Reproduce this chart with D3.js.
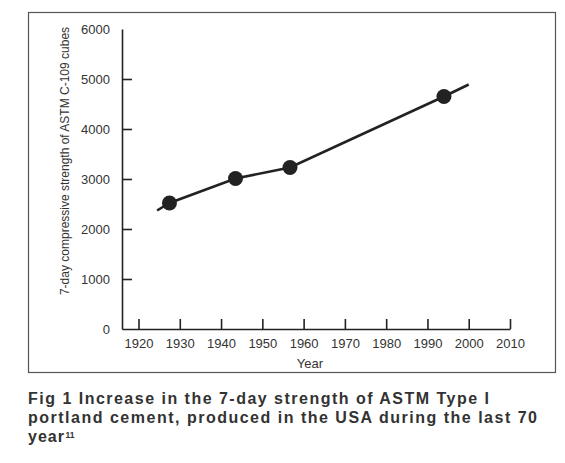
<!DOCTYPE html>
<html lang="en">
<head>
    <meta charset="UTF-8">
    <title>7-day strength of ASTM Type I cement</title>
    <script src="https://d3js.org/d3.v7.min.js"></script>
    <style>
        body {
            margin: 0;
            background: #fff;
            font-family: Arial, "Liberation Sans", sans-serif;
        }
    </style>
</head>
<body>
    <div class="chart"></div>

    <script>
        // measured points (year, 7-day strength)
        const years = [1927.5, 1943.5, 1956.7, 1994];
        const strength = [2520, 3010, 3230, 4650];

        // the drawn line runs a bit past the first and last points
        const lineYears = [1924.5, 1927.5, 1943.5, 1956.7, 1994, 2000];
        const lineStrength = [2370, 2520, 3010, 3230, 4650, 4890];

        const xTicks = [1920, 1930, 1940, 1950, 1960, 1970, 1980, 1990, 2000, 2010];
        const yTicks = [0, 1000, 2000, 3000, 4000, 5000, 6000];

        const captionLines = [
            'Fig 1 Increase in the 7-day strength of ASTM Type I',
            'portland cement, produced in the USA during the last 70',
            'year'
        ];

        const svgWidth = 565;
        const svgHeight = 463;
        const ink = '#222';
        const textColor = '#333';

        const svg = d3.select('.chart')
            .append('svg')
            .attr('width', svgWidth)
            .attr('height', svgHeight);

        // frame around the figure
        svg.append('rect')
            .attr('x', 28.5)
            .attr('y', 12.5)
            .attr('width', 527)
            .attr('height', 360)
            .attr('fill', 'none')
            .attr('stroke', '#555')
            .attr('stroke-width', 1.2);

        const xScale = d3.scaleLinear()
            .domain([1916, 2010])
            .range([122, 510]);

        const yScale = d3.scaleLinear()
            .domain([0, 6000])
            .range([329, 29]);

        // x axis, ticks pointing up
        const xAxis = svg.append('g')
            .attr('transform', `translate(0,${yScale(0)})`)
            .call(d3.axisBottom(xScale)
                .tickValues(xTicks)
                .tickFormat(d3.format('d'))
                .tickSizeInner(-10)
                .tickSizeOuter(0)
                .tickPadding(10));

        // y axis, ticks pointing right
        const yAxis = svg.append('g')
            .attr('transform', `translate(${xScale(1916)},0)`)
            .call(d3.axisLeft(yScale)
                .tickValues(yTicks)
                .tickFormat(d3.format('d'))
                .tickSizeInner(-10)
                .tickSizeOuter(0)
                .tickPadding(12));

        yAxis.selectAll('.tick')
            .filter(d => d === 0 || d === 6000)
            .select('line')
            .remove();

        [xAxis, yAxis].forEach(g => {
            g.select('.domain').attr('stroke', ink).attr('stroke-width', 1.6);
            g.selectAll('.tick line').attr('stroke', ink).attr('stroke-width', 1.6);
            g.selectAll('.tick text')
                .attr('fill', textColor)
                .style('font-family', 'Arial, "Liberation Sans", sans-serif')
                .style('font-size', '13px');
        });

        // axis titles
        svg.append('text')
            .attr('x', 310)
            .attr('y', 368)
            .attr('text-anchor', 'middle')
            .attr('fill', textColor)
            .style('font-size', '13px')
            .text('Year');

        svg.append('text')
            .attr('transform', 'translate(68.5,161) rotate(-90)')
            .attr('text-anchor', 'middle')
            .attr('fill', textColor)
            .style('font-size', '12px')
            .text('7-day compressive strength of ASTM C-109 cubes');

        // trend line and points
        const lineData = lineYears.map((yr, i) => ({ year: yr, value: lineStrength[i] }));
        const line = d3.line()
            .x(d => xScale(d.year))
            .y(d => yScale(d.value));

        svg.append('path')
            .datum(lineData)
            .attr('d', line)
            .attr('fill', 'none')
            .attr('stroke', ink)
            .attr('stroke-width', 2.6);

        svg.selectAll('.dot')
            .data(years.map((yr, i) => ({ year: yr, value: strength[i] })))
            .enter()
            .append('circle')
            .attr('class', 'dot')
            .attr('cx', d => xScale(d.year))
            .attr('cy', d => yScale(d.value))
            .attr('r', 7.5)
            .attr('fill', ink);

        // caption
        const caption = svg.append('g')
            .attr('fill', textColor)
            .style('font-size', '16px')
            .style('font-weight', 'bold');

        const captionWidths = [462, 510, null];
        captionLines.forEach((txt, i) => {
            const t = caption.append('text')
                .attr('x', 28)
                .attr('y', 404 + i * 19)
                .style('letter-spacing', '1px')
                .text(txt);
            if (captionWidths[i]) {
                t.attr('textLength', captionWidths[i]).attr('lengthAdjust', 'spacing');
            }
        });

        caption.append('text')
            .attr('x', 65.5)
            .attr('y', 437.5)
            .style('font-size', '8.5px')
            .text('11');
    </script>
</body>
</html>
